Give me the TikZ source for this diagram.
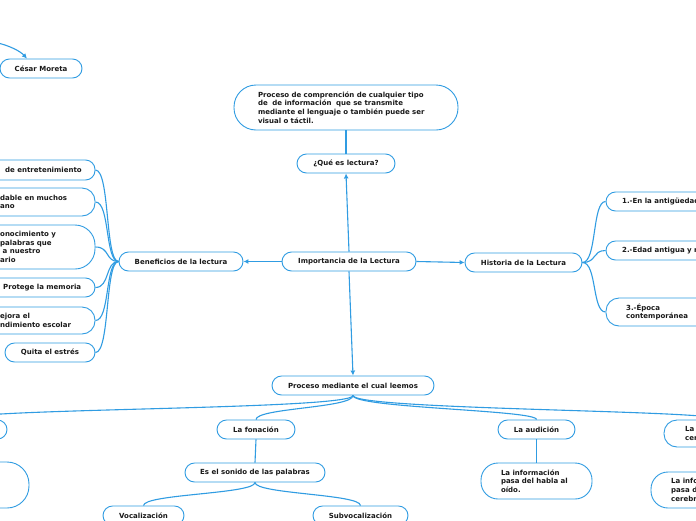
\documentclass[tikz,border=0pt]{standalone}
\usepackage{fontspec}
\setmainfont{DejaVu Sans}
\usetikzlibrary{arrows.meta}
\definecolor{bl}{RGB}{48,156,226}
\definecolor{tx}{RGB}{25,25,25}
\tikzset{
  box/.style={draw=bl, line width=0.9pt, fill=white, rounded corners=9.5pt, inner sep=0pt,
    minimum height=19pt, text=tx, font=\fontsize{7}{8.7}\selectfont\bfseries, align=center},
  txt/.style={inner sep=0pt, text=tx, font=\fontsize{7}{8.7}\selectfont\bfseries, align=left},
  con/.style={draw=bl, line width=1.1pt},
  arr/.style={con, -{Latex[length=5pt,width=5pt]}},
}
\begin{document}
\begin{tikzpicture}[x=1pt,y=-1pt]
\useasboundingbox (0,0) rectangle (696,520);
\fill[white] (0,0) rectangle (696,520);
\clip (0,0) rectangle (696,520);

% top
\node[box, minimum width=82pt] (ces) at (41,68.5) {César Moreta};
\coordinate (cs0) at (-2,43);
\node[box, align=left, minimum width=224pt, minimum height=45pt, rounded corners=22pt, text width=176pt] (def) at (346,107.5)
  {Proceso de comprención de cualquier tipo\\de\ \ de información\ \ que se transmite\\mediante el lenguaje o también puede ser\\visual o táctil.};
\node[box, minimum width=98pt] (q) at (346,163.5) {¿Qué es lectura?};

% centre row
\node[box, minimum width=134pt] (imp) at (349,261.5) {Importancia de la Lectura};
\node[box, minimum width=124pt] (ben) at (181,261.5) {Beneficios de la lectura};
\node[box, minimum width=117pt] (his) at (523.5,262.5) {Historia de la Lectura};
\node[box, minimum width=162pt] (proc) at (353,385.5) {Proceso mediante el cual leemos};

% left benefits
\node[box, minimum width=195pt, minimum height=20pt] (b1) at (-2.5,170) {};
\node[txt, anchor=west] (b1t) at (5,170) {de entretenimiento};
\node[box, minimum width=195pt, minimum height=28pt, rounded corners=13pt] (b2) at (-2.5,202) {};
\node[txt, anchor=west] (b2t) at (0,202) {dable en muchos\\ano};
\node[box, minimum width=195pt, minimum height=44pt, rounded corners=20pt] (b3) at (-2.5,247) {};
\node[txt, anchor=west] (b3t) at (0,247) {onocimiento y\\palabras que\\\hspace*{2.5pt}a nuestro\\ario};
\node[box, minimum width=195pt] (b4) at (-2.5,287.5) {};
\node[txt, anchor=west] (b4t) at (3,287.5) {Protege la memoria};
\node[box, minimum width=195pt, minimum height=27pt, rounded corners=13pt] (b5) at (-2.5,320.5) {};
\node[txt, anchor=west] (b5t) at (0,320.5) {ejora el\\ndimiento escolar};
\node[box, minimum width=90pt] (b6) at (50,352.5) {Quita el estrés};

% right history
\node[box, minimum width=154pt] (h1) at (683,201.5) {};
\node[txt, anchor=west] (h1t) at (622,201.5) {1.-En la antigüedad};
\node[box, minimum width=154pt] (h2) at (683,250.5) {};
\node[txt, anchor=west] (h2t) at (622,250.5) {2.-Edad antigua y m};
\node[box, minimum width=154pt, minimum height=28pt, rounded corners=13pt] (h3) at (683,312) {};
\node[txt, anchor=west] (h3t) at (626,312) {3.-Época\\contemporánea};

% bottom
\node[box, minimum width=94pt] (c0) at (-40,429.5) {};
\node[box, minimum width=138pt, minimum height=46pt, rounded corners=22pt] (big) at (-40,485) {};
\node[box, minimum width=78pt] (fon) at (256,429.5) {La fonación};
\node[box, minimum width=77pt] (aud) at (536.5,429.5) {La audición};
\node[box, minimum width=112pt, minimum height=27pt, rounded corners=13pt] (cer) at (720,433.5) {};
\node[txt, anchor=west] (cert) at (685,433.5) {La\\cer};
\node[box, minimum width=140pt] (son) at (255,472.5) {Es el sonido de las palabras};
\node[box, align=left, minimum width=111pt, minimum height=36pt, rounded corners=17pt, text width=71pt] (inf) at (536.5,481)
  {La información\\pasa del habla al\\oído.};
\node[box, minimum width=138pt, minimum height=36pt, rounded corners=17pt] (inf2) at (720,490) {};
\node[txt, anchor=west] (inf2t) at (671,490) {La info\\pasa d\\cerebr};
\node[box, minimum width=81pt] (voc) at (143.5,515.5) {Vocalización};
\node[box, minimum width=95pt] (sub) at (360.5,515.5) {Subvocalización};

% connectors
\draw[arr] (cs0) .. controls (10,46) and (20,51) .. ([xshift=-14pt]ces.north);
\draw[con] (def.south) -- (q.north);
\draw[arr] (imp.north) -- (q.south);
\draw[arr] (imp.west) -- (ben.east);
\draw[arr] (imp.east) -- (his.west);
\draw[arr] (imp.south) -- (proc.north);

\foreach \n/\y in {b1/170, b2/202, b3/247, b4/287.5, b5/320.5, b6/352.5}
  \draw[con] (ben.west) .. controls (105,261.5) and (110,\y) .. (\n.east);
\foreach \n/\y in {h1/201.5, h2/250.5, h3/312}
  \draw[con] (his.east) .. controls (597,262.5) and (592,\y) .. (\n.west);

\draw[con] (proc.south) .. controls (353,410) and (-40,408) .. (c0.north);
\draw[con] (proc.south) .. controls (353,408) and (256,408) .. (fon.north);
\draw[con] (proc.south) .. controls (353,408) and (537,410) .. (aud.north);
\draw[con] (proc.south) .. controls (353,410) and (720,410) .. (cer.north);
\draw[con] (c0.south) -- (big.north);
\draw[con] (fon.south) -- (son.north);
\draw[con] (aud.south) -- (inf.north);
\draw[con] (cer.south) -- (inf2.north);
\draw[con] (son.south) .. controls (255,494) and (143.5,494) .. (voc.north);
\draw[con] (son.south) .. controls (255,494) and (360.5,494) .. (sub.north);
\end{tikzpicture}
\end{document}
